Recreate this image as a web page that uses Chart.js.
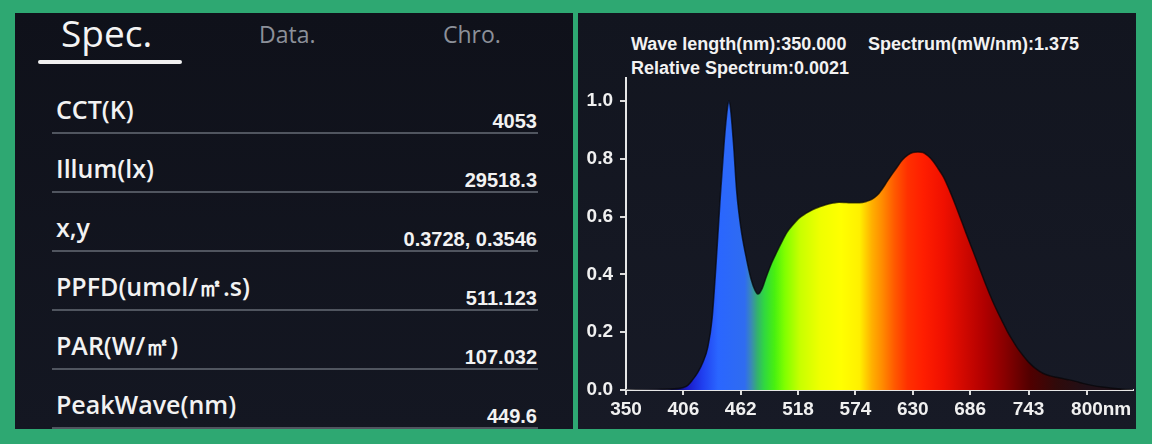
<!DOCTYPE html>
<html lang="en">
<head>
<meta charset="UTF-8">
<title>Spec. / Spectrum</title>
<script src="https://cdn.jsdelivr.net/npm/chart.js"></script>
<style>
  html, body { margin: 0; padding: 0; }
  body { width: 1152px; height: 444px; background: #2ea872; position: relative; overflow: hidden; font-family: "Open Sans", sans-serif; }
  .panel { position: absolute; top: 13px; height: 416px; }
  #left { left: 15px; width: 558px; background: linear-gradient(#0f111a, #141722); }
  #right { left: 578px; width: 558px; background: linear-gradient(#12151f, #171a26); }
  .t { position: absolute; white-space: nowrap; line-height: 1; }
  .tab { font-size: 23px; color: #8c9099; }
  .lbl { font-size: 25px; font-weight: 600; color: #f2f2f2; left: 56px; }
  .val { font-family: "Liberation Sans", Arial, sans-serif; font-weight: bold; font-size: 20px; color: #f2f2f2; right: 615px; text-align: right; }
  .rule { position: absolute; left: 52px; width: 486px; height: 2px; background: #50555f; }
  .hdr { font-family: "Liberation Sans", Arial, sans-serif; font-weight: bold; font-size: 18px; color: #f2f2f2; }
  #chartBox { position: absolute; left: 578px; top: 13px; width: 558px; height: 416px; }
</style>
</head>
<body>
<div class="panel" id="left"></div>
<div class="panel" id="right"></div>

<!-- tabs -->
<div class="t" style="left:61px; top:14px; font-size:37px; color:#f4f4f4;">Spec.</div>
<div style="position:absolute; left:38px; top:60px; width:144px; height:4px; background:#f0f0f0; border-radius:2px;"></div>
<div class="t tab" style="left:259px; top:23px;">Data.</div>
<div class="t tab" style="left:443px; top:23px;">Chro.</div>

<div id="specRows"></div>

<!-- readout above the spectrum -->
<div class="t hdr" style="left:631px; top:35px;">Wave length(nm):350.000</div>
<div class="t hdr" style="left:868px; top:35px;">Spectrum(mW/nm):1.375</div>
<div class="t hdr" style="left:631px; top:59px;">Relative Spectrum:0.0021</div>

<div id="chartBox"><canvas id="specChart" width="558" height="416"></canvas></div>

<script>
// left table
const specLabels = ["CCT(K)", "Illum(lx)", "x,y", "PPFD(umol/㎡.s)", "PAR(W/㎡)", "PeakWave(nm)"];
const specValues = ["4053", "29518.3", "0.3728, 0.3546", "511.123", "107.032", "449.6"];

// spectrum
const waveLength = [350, 380, 400, 405, 410, 415, 420, 425, 430, 434, 438, 442, 446, 449, 450.5, 452, 455, 458, 462, 467,
  472, 476, 479, 483, 487, 492, 497, 502, 507, 513, 519, 526, 532, 539, 545, 552, 558, 565, 572, 578,
  585, 590, 595, 600, 605, 610, 615, 620, 625, 630, 635, 640, 645, 650, 655, 660, 666, 672, 677, 682,
  687, 692, 697, 702, 707, 712, 717, 722, 727, 732, 738, 744, 750, 757, 764, 770, 777, 783, 790, 796,
  805, 815, 825, 835, 845];
const relSpectrum = [0.000, 0.002, 0.005, 0.008, 0.015, 0.035, 0.060, 0.095, 0.150, 0.245, 0.440, 0.665, 0.865, 0.975, 1.000, 0.975, 0.850, 0.690, 0.565, 0.465,
  0.385, 0.345, 0.332, 0.352, 0.392, 0.438, 0.476, 0.512, 0.545, 0.572, 0.595, 0.612, 0.624, 0.634, 0.641, 0.647, 0.650, 0.649, 0.648, 0.648,
  0.653, 0.660, 0.673, 0.695, 0.722, 0.748, 0.773, 0.797, 0.813, 0.822, 0.824, 0.822, 0.810, 0.791, 0.765, 0.737, 0.690, 0.637, 0.590, 0.543,
  0.497, 0.451, 0.404, 0.358, 0.315, 0.276, 0.240, 0.205, 0.174, 0.146, 0.118, 0.093, 0.074, 0.058, 0.049, 0.044, 0.039, 0.035, 0.029, 0.023,
  0.016, 0.010, 0.006, 0.003, 0.001];
const xTickValues = [350, 406, 462, 518, 574, 630, 686, 743, 800];
const yTickValues = [0, 0.2, 0.4, 0.6, 0.8, 1.0];

// colour of the fill along the wavelength axis
const fillStops = [
  [400, '#12125a'], [410, '#1a1ac8'], [425, '#2040f0'], [440, '#2a66ff'], [466, '#2f6cf0'],
  [472, '#3a88b8'], [478, '#34b070'], [485, '#30d840'], [495, '#48f010'], [505, '#80ff00'],
  [520, '#c8ff00'], [540, '#f0ff00'], [560, '#ffff00'], [578, '#fff000'], [590, '#ffb000'],
  [600, '#ff8c00'], [612, '#ff5a00'], [625, '#ff3000'], [640, '#ff1e00'], [660, '#f01000'],
  [680, '#d00800'], [700, '#b00000'], [720, '#880000'], [745, '#500000'], [770, '#300a0a'], [800, '#201018']
];

// build the table rows
const rows = document.getElementById('specRows');
specLabels.forEach((label, i) => {
  const line = 133 + 58.9 * i;
  const l = document.createElement('div');
  l.className = 't lbl';
  l.style.top = (line - 13.5 - 22.2) + 'px';
  l.textContent = label;
  const v = document.createElement('div');
  v.className = 't val';
  v.style.top = (line - 5 - 16.9) + 'px';
  v.textContent = specValues[i];
  const r = document.createElement('div');
  r.className = 'rule';
  r.style.top = (line - 1) + 'px';
  rows.append(l, v, r);
});

const tickFont = { family: 'Liberation Sans', size: 19, weight: 'bold' };

// unit after the last tick label
const unitLabel = {
  id: 'unitLabel',
  afterDraw(chart) {
    const { ctx } = chart;
    const x = chart.scales.x;
    const last = xTickValues[xTickValues.length - 1];
    ctx.save();
    ctx.font = 'bold 19px "Liberation Sans"';
    const w = ctx.measureText(String(last)).width;
    ctx.fillStyle = '#f0f0f0';
    ctx.textBaseline = 'middle';
    ctx.textAlign = 'left';
    ctx.fillText('nm', x.getPixelForValue(last) + w / 2, x.top + 5 + 3 + 19 * 1.2 / 2);
    ctx.restore();
  }
};

new Chart(document.getElementById('specChart'), {
  type: 'line',
  data: {
    datasets: [{
      data: waveLength.map((w, i) => ({ x: w, y: relSpectrum[i] })),
      fill: 'origin',
      borderColor: 'rgba(5,5,8,0.7)',
      borderWidth: 1.5,
      pointRadius: 0,
      cubicInterpolationMode: 'monotone',
      backgroundColor(context) {
        const { chart } = context;
        const a = chart.chartArea;
        if (!a) return '#2a66ff';
        const g = chart.ctx.createLinearGradient(a.left, 0, a.right, 0);
        fillStops.forEach(([nm, c]) => {
          const p = (chart.scales.x.getPixelForValue(nm) - a.left) / (a.right - a.left);
          g.addColorStop(Math.min(1, Math.max(0, p)), c);
        });
        return g;
      }
    }]
  },
  options: {
    responsive: false,
    animation: false,
    layout: { padding: { top: 65, right: 3, left: 0, bottom: 0 } },
    plugins: { legend: { display: false }, tooltip: { enabled: false } },
    scales: {
      x: {
        type: 'linear',
        min: 350,
        max: 845,
        afterBuildTicks(scale) { scale.ticks = xTickValues.map(v => ({ value: v })); },
        afterFit(scale) { scale.height = 39; },
        ticks: { color: '#f0f0f0', font: tickFont, padding: 3, maxRotation: 0, autoSkip: false,
          callback: v => String(v) },
        grid: { drawOnChartArea: false, color: '#dcdcdc', lineWidth: 2, tickLength: 5 },
        border: { color: '#e6e6e6', width: 2 }
      },
      y: {
        min: 0,
        max: 1.08,
        afterBuildTicks(scale) { scale.ticks = yTickValues.map(v => ({ value: v })); },
        afterFit(scale) { scale.width = 48; },
        ticks: { color: '#f0f0f0', font: tickFont, padding: 7, callback: v => v.toFixed(1) },
        grid: { drawOnChartArea: false, color: '#dcdcdc', lineWidth: 2, tickLength: 6 },
        border: { color: '#e6e6e6', width: 2 }
      }
    }
  },
  plugins: [unitLabel]
});
</script>
</body>
</html>
